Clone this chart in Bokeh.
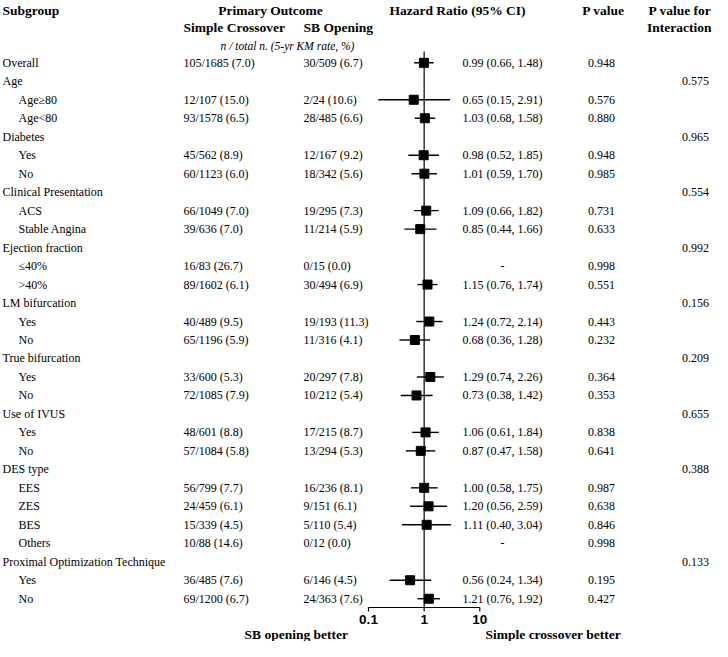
from bokeh.plotting import figure
from bokeh.models import Range1d, ColumnDataSource, LinearScale
from bokeh.core.properties import value
from bokeh.embed import file_html
from bokeh.resources import INLINE

# ---------------- data ----------------
labels = ["Overall", "Age", "Age\u226580", "Age<80", "Diabetes", "Yes", "No",
          "Clinical Presentation", "ACS", "Stable Angina", "Ejection fraction",
          "\u226440%", ">40%", "LM bifurcation", "Yes", "No", "True bifurcation",
          "Yes", "No", "Use of IVUS", "Yes", "No", "DES type", "EES", "ZES", "BES",
          "Others", "Proximal Optimization Technique", "Yes", "No"]
indent = [0, 0, 1, 1, 0, 1, 1, 0, 1, 1, 0, 1, 1, 0, 1, 1, 0, 1, 1, 0, 1, 1,
          0, 1, 1, 1, 1, 0, 1, 1]
simple_crossover = ["105/1685 (7.0)", "", "12/107 (15.0)", "93/1578 (6.5)", "",
                    "45/562 (8.9)", "60/1123 (6.0)", "", "66/1049 (7.0)", "39/636 (7.0)",
                    "", "16/83 (26.7)", "89/1602 (6.1)", "", "40/489 (9.5)", "65/1196 (5.9)",
                    "", "33/600 (5.3)", "72/1085 (7.9)", "", "48/601 (8.8)", "57/1084 (5.8)",
                    "", "56/799 (7.7)", "24/459 (6.1)", "15/339 (4.5)", "10/88 (14.6)",
                    "", "36/485 (7.6)", "69/1200 (6.7)"]
sb_opening = ["30/509 (6.7)", "", "2/24 (10.6)", "28/485 (6.6)", "",
              "12/167 (9.2)", "18/342 (5.6)", "", "19/295 (7.3)", "11/214 (5.9)",
              "", "0/15 (0.0)", "30/494 (6.9)", "", "19/193 (11.3)", "11/316 (4.1)",
              "", "20/297 (7.8)", "10/212 (5.4)", "", "17/215 (8.7)", "13/294 (5.3)",
              "", "16/236 (8.1)", "9/151 (6.1)", "5/110 (5.4)", "0/12 (0.0)",
              "", "6/146 (4.5)", "24/363 (7.6)"]
hr = [0.99, None, 0.65, 1.03, None, 0.98, 1.01, None, 1.09, 0.85, None, None, 1.15,
      None, 1.24, 0.68, None, 1.29, 0.73, None, 1.06, 0.87, None, 1.00, 1.20, 1.11,
      None, None, 0.56, 1.21]
hr_low = [0.66, None, 0.15, 0.68, None, 0.52, 0.59, None, 0.66, 0.44, None, None, 0.76,
          None, 0.72, 0.36, None, 0.74, 0.38, None, 0.61, 0.47, None, 0.58, 0.56, 0.40,
          None, None, 0.24, 0.76]
hr_high = [1.48, None, 2.91, 1.58, None, 1.85, 1.70, None, 1.82, 1.66, None, None, 1.74,
           None, 2.14, 1.28, None, 2.26, 1.42, None, 1.84, 1.58, None, 1.75, 2.59, 3.04,
           None, None, 1.34, 1.92]
hr_missing = [False, False, False, False, False, False, False, False, False, False, False,
              True, False, False, False, False, False, False, False, False, False, False,
              False, False, False, False, True, False, False, False]
p_value = ["0.948", "", "0.576", "0.880", "", "0.948", "0.985", "", "0.731", "0.633",
           "", "0.998", "0.551", "", "0.443", "0.232", "", "0.364", "0.353", "",
           "0.838", "0.641", "", "0.987", "0.638", "0.846", "0.998", "", "0.195", "0.427"]
p_interaction = ["", "0.575", "", "", "0.965", "", "", "0.554", "", "", "0.992", "", "",
                 "0.156", "", "", "0.209", "", "", "0.655", "", "", "0.388", "", "", "",
                 "", "0.133", "", ""]
axis_ticks = [0.1, 1, 10]
axis_tick_labels = ["0.1", "1", "10"]

# ---------------- layout constants (pixel space) ----------------
W, H = 712, 641
PX_X = (0.0, 712.0)
PX_Y = (641.0, 0.0)
ROW0_Y, ROW_DY = 62.3, 18.48
X_TICK_LO, X_TICK_HI = 368.0, 479.3   # px of 0.1 and 10
DEC = (X_TICK_HI - X_TICK_LO) / 2.0

lx0 = -1 - (X_TICK_LO - PX_X[0]) / DEC
lx1 = 1 + (PX_X[1] - X_TICK_HI) / DEC
ry0 = (PX_Y[0] - ROW0_Y) / ROW_DY
ry1 = (PX_Y[1] - ROW0_Y) / ROW_DY

p = figure(width=W, height=H, x_axis_type="log",
           x_range=Range1d(10 ** lx0, 10 ** lx1), y_range=Range1d(ry0, ry1),
           output_backend="svg", toolbar_location=None, min_border=0)
p.extra_x_ranges = {"px": Range1d(*PX_X)}
p.extra_x_scales = {"px": LinearScale()}
p.extra_y_ranges = {"px": Range1d(*PX_Y)}
p.extra_y_scales = {"px": LinearScale()}
p.axis.visible = False
p.grid.visible = False
p.outline_line_color = None
p.background_fill_color = "white"
p.border_fill_color = "white"

SERIF = value("Liberation Serif")
SANS = value("Liberation Sans")
BODY = "12px"
HEAD = "13.5px"

rows = list(range(len(labels)))


def col(xs, ys, texts, align="left", font=SERIF, size=BODY, style="normal", yname=None):
    src = ColumnDataSource(dict(x=xs, y=ys, t=texts))
    kw = dict(x="x", y="y", text="t", source=src, text_font=font, text_font_size=size,
              text_font_style=style, text_align=align, text_baseline="middle",
              text_color="black", x_range_name="px")
    if yname:
        kw["y_range_name"] = yname
    p.text(**kw)


n = len(rows)
col([2 + 16 * i for i in indent], rows, labels)
col([183] * n, rows, simple_crossover)
col([303] * n, rows, sb_opening)
hr_text = []
for h, l, u, m in zip(hr, hr_low, hr_high, hr_missing):
    if m:
        hr_text.append("-")
    elif h is None:
        hr_text.append("")
    else:
        hr_text.append(f"{h:.2f} ({l:.2f}, {u:.2f})")
col([502] * n, rows, hr_text, align="center")
col([601] * n, rows, p_value, align="center")
col([695] * n, rows, p_interaction, align="center")

# headers
col([2], [10], ["Subgroup"], style="bold", size=HEAD, yname="px")
col([270], [10], ["Primary Outcome"], align="center", style="bold", size=HEAD, yname="px")
col([183], [27], ["Simple Crossover"], style="bold", size=HEAD, yname="px")
col([303], [27], ["SB Opening"], style="bold", size=HEAD, yname="px")
col([287], [45], ["n / total n. (5-yr KM rate, %)"], align="center", style="italic",
    size="11.5px", yname="px")
col([457], [10], ["Hazard Ratio (95% CI)"], align="center", style="bold", size=HEAD, yname="px")
col([603], [10], ["P value"], align="center", style="bold", size=HEAD, yname="px")
col([711, 711], [10, 27], ["P value for", "Interaction"], align="right", style="bold",
    size=HEAD, yname="px")
col([244], [634], ["SB opening better"], style="bold", size=HEAD, yname="px")
col([485], [634], ["Simple crossover better"], style="bold", size=HEAD, yname="px")

# forest
pts = [(h, l, u, r) for h, l, u, r in zip(hr, hr_low, hr_high, rows) if h is not None]
fsrc = ColumnDataSource(dict(hr=[a[0] for a in pts], lo=[a[1] for a in pts],
                             hi=[a[2] for a in pts], y=[a[3] for a in pts]))
p.segment(x0=[1], x1=[1], y0=[51], y1=[607], y_range_name="px",
          line_color="black", line_width=1.2)
p.segment(x0="lo", x1="hi", y0="y", y1="y", source=fsrc, line_color="black", line_width=1.4)
p.scatter(x="hr", y="y", source=fsrc, marker="square", size=9, fill_color="black",
          line_color="black")

# x axis
p.segment(x0=[axis_ticks[0]], x1=[axis_ticks[-1]], y0=[607] * 1, y1=[607] * 1,
          y_range_name="px", line_color="black", line_width=1.2)
p.segment(x0=axis_ticks, x1=axis_ticks, y0=[607] * 3, y1=[611] * 3, y_range_name="px",
          line_color="black", line_width=1.2)
tsrc = ColumnDataSource(dict(x=axis_ticks, y=[619] * 3, t=axis_tick_labels))
p.text(x="x", y="y", text="t", source=tsrc, y_range_name="px", text_font=SANS,
       text_font_size="13.5px", text_font_style="bold", text_align="center",
       text_baseline="middle", text_color="black")

open("out.html", "w").write(file_html(p, INLINE))
